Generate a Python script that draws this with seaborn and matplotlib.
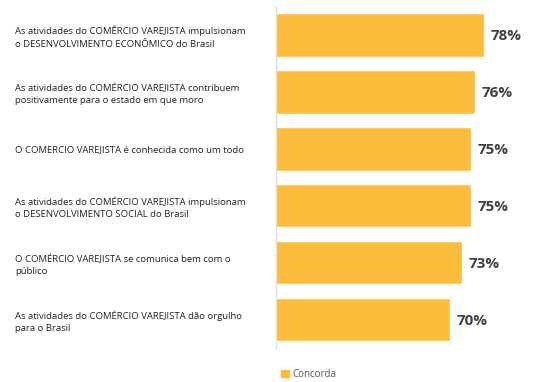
import matplotlib
matplotlib.use("Agg")
import matplotlib.pyplot as plt
import seaborn as sns
import pandas as pd
from matplotlib.patches import Patch

afirmacoes = [
    "As atividades do COMÊRCIO VAREJISTA impulsionam\no DESENVOLVIMENTO ECONÔMICO do Brasil",
    "As atividades do COMÉRCIO VAREJISTA contribuem\npositivamente para o estado em que moro",
    "O COMERCIO VAREJISTA é conhecida como um todo",
    "As atividades do COMÉRCIO VAREJISTA impulsionam\no DESENVOLVIMENTO SOCIAL do Brasil",
    "O COMÉRCIO VAREJISTA se comunica bem com o\npúblico",
    "As atividades do COMÉRCIO VAREJISTA dão orgulho\npara o Brasil",
]
concorda = [78, 76, 75, 75, 73, 70]
rotulos = ["78%", "76%", "75%", "75%", "73%", "70%"]

df = pd.DataFrame({"afirmacao": afirmacoes, "concorda": concorda})

sns.set_style("white")
plt.rcParams["font.family"] = ["Open Sans", "DejaVu Sans"]

fig = plt.figure(figsize=(5.47, 3.82), dpi=100)
ax = fig.add_axes([0.5046, 0.089, 0.48, 0.895])

cor = "#FCBD3D"
sns.barplot(data=df, x="concorda", y="afirmacao", orient="h", color=cor,
            saturation=1, width=0.77, ax=ax)

ax.set_xlim(29, 91)
ax.set_ylim(5.5, -0.5)
ax.set_xlabel("")
ax.set_ylabel("")
ax.set_xticks([])
for s in ["top", "right", "bottom"]:
    ax.spines[s].set_visible(False)
ax.spines["left"].set_color("#dddddd")
ax.spines["left"].set_linewidth(1)

# rotulos alinhados a esquerda, perto da borda da figura
ax.tick_params(axis="y", length=0, pad=188)
for t in ax.get_yticklabels():
    t.set_horizontalalignment("left")
    t.set_fontsize(6.8)
    t.set_color("#222222")
    t.set_linespacing(1.45)

for i, (v, r) in enumerate(zip(concorda, rotulos)):
    ax.text(v + 1.6, i + 0.03, r, va="center", ha="left", fontsize=11,
            fontweight="bold", color="#404040")

fig.legend(handles=[Patch(color=cor, label="Concorda")], loc="lower left",
           bbox_to_anchor=(0.498, -0.017), frameon=False, fontsize=7,
           handlelength=0.8, handleheight=0.8, handletextpad=0.4,
           labelcolor="#555555")

fig.savefig("out.png", dpi=100)
